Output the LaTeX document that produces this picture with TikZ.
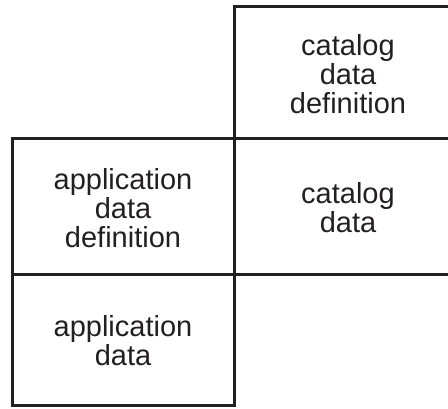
\documentclass[tikz,border=0pt]{standalone}
\usepackage{fontspec}
\setmainfont{Liberation Sans}
\definecolor{ink}{HTML}{231F20}
\begin{document}
\begin{tikzpicture}[x=1pt,y=-1pt,
  cell/.style={draw=ink,line width=3pt},
  label/.style={text=ink,align=center,inner sep=0pt,
    font=\fontsize{29}{29}\selectfont}]
\useasboundingbox (0,0) rectangle (448,408);
\clip (0,0) rectangle (448,408);
% grid of cells
\draw[cell] (234,6) rectangle (462,138);
\draw[cell] (12,138) rectangle (234,274);
\draw[cell] (234,138) rectangle (462,274);
\draw[cell] (12,274) rectangle (234,405);
% cell captions
\node[label] (cdd) at (348,74) {catalog\\data\\definition};
\node[label] (add) at (123,208) {application\\data\\definition};
\node[label] (cd) at (348,208) {catalog\\data};
\node[label] (ad) at (123,341) {application\\data};
\end{tikzpicture}
\end{document}
